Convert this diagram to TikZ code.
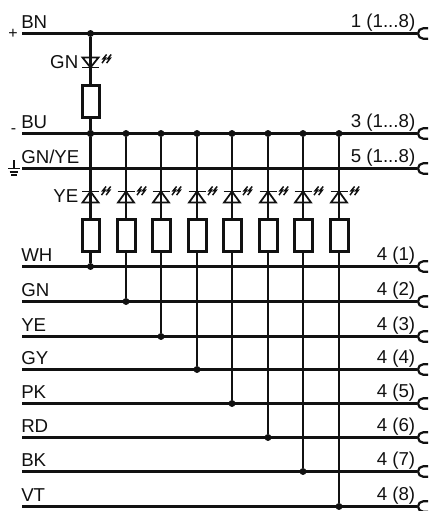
\documentclass[tikz,border=0pt]{standalone}
\usepackage{fontspec}
\setmainfont{Liberation Sans}
\definecolor{ink}{HTML}{111111}
\newcommand{\tdots}{...}
\tikzset{
  wire/.style={draw=ink,line width=1.65pt},
  res/.style={draw=ink,fill=white,line width=2.1pt,minimum width=13.2pt,minimum height=24pt,inner sep=0pt,rectangle},
  dotj/.style={circle,fill=ink,inner sep=0pt,minimum size=5.2pt},
  lab/.style={font=\fontsize{14pt}{16pt}\selectfont,text=ink,inner sep=0pt,anchor=base west},
  rlab/.style={font=\fontsize{14pt}{16pt}\selectfont,text=ink,inner sep=0pt,anchor=base east},
  ledl/.style={draw=ink,line width=1.3pt,line join=miter},
  ray/.style={draw=ink,line width=1.1pt,line join=miter},
  sock/.style={draw=ink,line width=1.65pt},
  sym/.style={font=\fontsize{12pt}{14pt}\selectfont,text=ink,inner sep=0pt}
}
\newcommand{\raysat}[2]{%
  \begin{scope}[shift={(#1,#2)}]
    \path[ray] (4.6,0) -- (1.2,4.2) -- (3.6,3.8) -- (0,8.6);
    \path[ray] (9.2,0) -- (5.8,4.2) -- (8.2,3.8) -- (4.6,8.6);
  \end{scope}}
\begin{document}
\begin{tikzpicture}[x=.75pt,y=-.75pt]
\useasboundingbox (0,0) rectangle (429,511);
% bus wires
\foreach \n/\y/\tx in {a/33.5/1 (1\tdots8),b/133.5/3 (1\tdots8),c/168.5/5 (1\tdots8),d/266.5/4 (1),e/301.5/4 (2),f/336.5/4 (3),g/369.5/4 (4),h/403.5/4 (5),i/437.5/4 (6),j/471.5/4 (7),k/506.5/4 (8)}{
  \coordinate (\n L) at (22,\y);
  \coordinate (\n R) at (417,\y);
  \draw[wire] (\n L) -- (\n R);
  \draw[sock] (428,\y-5.2) -- (423.2,\y-5.2) arc[start angle=90,end angle=270,radius=3.9pt] -- (428,\y+5.2);
  \node[rlab] at (415.5,\y-6) {\tx};
}
\foreach \tx/\y in {BN/33.5,BU/133.5,{GN\slash YE}/168.5,WH/266.5,GN/301.5,YE/336.5,GY/369.5,PK/403.5,RD/437.5,BK/471.5,VT/506.5}
  \node[lab] at (21,\y-5.5) {\tx};
% polarity
\node[sym] (plus) at (13,34) {+};
\node[sym] (minus) at (13.5,131.5) {-};
\coordinate (e0) at (14,160);
\coordinate (e1) at (14,168.5);
\draw[draw=ink,line width=.9pt] (e0) -- (e1) (8,168.5) -- (20,168.5) (9.5,172) -- (18,172) (11,175) -- (16.5,175);
% top LED branch
\node[dotj] (ja) at (90.5,33.5) {};
\node[dotj] (jb) at (90.5,133.5) {};
\draw[wire] (ja) -- (jb);
\draw[ledl] (82.5,57.5) -- (98.5,57.5) -- (90.5,67.5) -- cycle;
\draw[ledl] (82,67.5) -- (99,67.5);
\raysat{102}{54.5}
\node[res] (r0) at (91,101.5) {};
\node[lab,anchor=base east] at (78.5,68) {GN};
% lower LEDs
\node[lab,anchor=base east] at (78.5,202.5) {YE};
\foreach \n/\x/\y in {1/90.5/266.5,2/126/301.5,3/161/336.5,4/197/369.5,5/232/403.5,6/268/437.5,7/303/471.5,8/339/506.5}{
  \node[dotj] (t\n) at (\x,133.5) {};
  \node[dotj] (u\n) at (\x,\y) {};
  \draw[wire] (t\n) -- (u\n);
  \draw[ledl] (\x-8,202.5) -- (\x+8,202.5) -- (\x,191.5) -- cycle;
  \draw[ledl] (\x-8.5,191.5) -- (\x+8.5,191.5);
  \raysat{\x+11}{186.5}
  \node[res] (r\n) at (\x+.5,235.5) {};
}
\end{tikzpicture}
\end{document}
